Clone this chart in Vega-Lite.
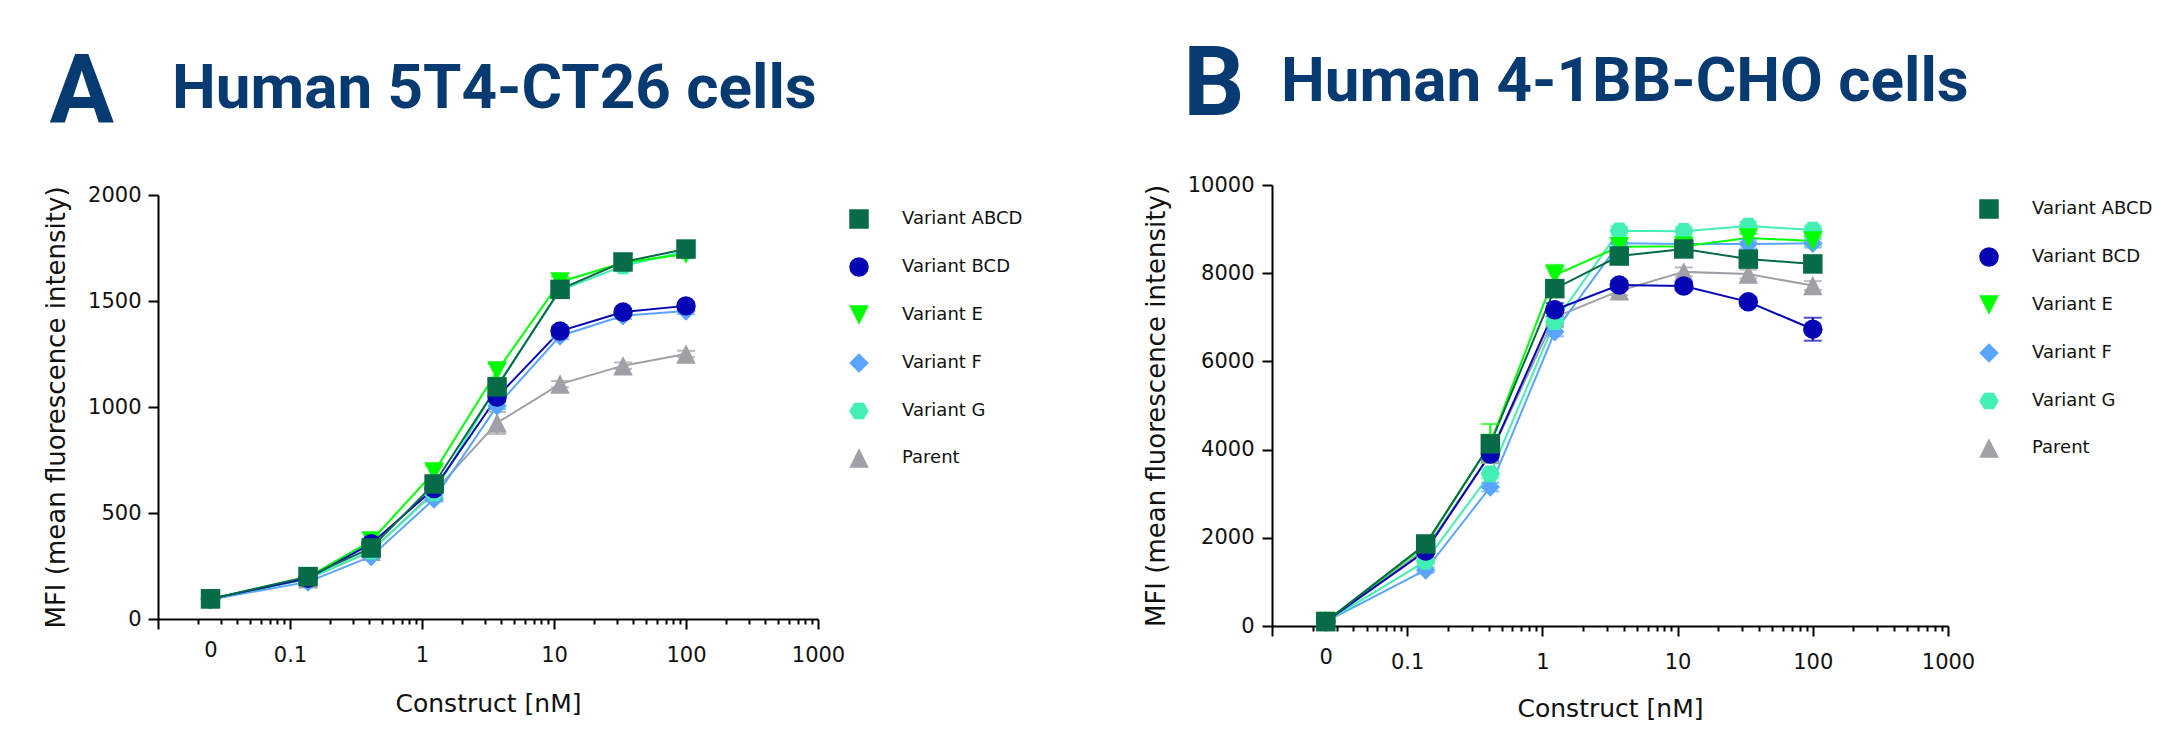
{
  "$schema": "https://vega.github.io/schema/vega-lite/v6.json",
  "background": "white",
  "padding": {"left": 43, "top": 38, "right": 0, "bottom": 0},
  "config": {
    "view": {"stroke": null},
    "font": "DejaVu Sans",
    "axis": {
      "grid": false,
      "domainColor": "#000000",
      "domainWidth": 2,
      "tickColor": "#000000",
      "tickWidth": 2,
      "labelFont": "DejaVu Sans",
      "labelFontSize": 21,
      "labelColor": "#111111",
      "titleFont": "DejaVu Sans",
      "titleFontSize": 25,
      "titleFontWeight": "normal",
      "titleColor": "#111111"
    },
    "legend": {
      "title": null,
      "orient": "right",
      "offset": 17,
      "padding": 14,
      "rowPadding": 28,
      "symbolSize": 380,
      "symbolOpacity": 1,
      "symbolStrokeWidth": 0,
      "labelFont": "DejaVu Sans",
      "labelFontSize": 18,
      "labelColor": "#111111",
      "labelOffset": 33,
      "labelLimit": 400
    },
    "title": {
      "color": "#073a70",
      "font": "Roboto",
      "fontWeight": "bold",
      "fontSize": 62,
      "anchor": "start"
    }
  },
  "datasets": {
    "mfi": [
      {"panel": "A", "series": "Parent", "nM": 0, "mfi": 95, "sd": 5},
      {"panel": "A", "series": "Parent", "nM": 0.137, "mfi": 190, "sd": 8},
      {"panel": "A", "series": "Parent", "nM": 0.412, "mfi": 320, "sd": 10},
      {"panel": "A", "series": "Parent", "nM": 1.235, "mfi": 600, "sd": 15},
      {"panel": "A", "series": "Parent", "nM": 3.704, "mfi": 925, "sd": 52},
      {"panel": "A", "series": "Parent", "nM": 11.11, "mfi": 1108, "sd": 15},
      {"panel": "A", "series": "Parent", "nM": 33.33, "mfi": 1195, "sd": 15},
      {"panel": "A", "series": "Parent", "nM": 100, "mfi": 1250, "sd": 15},
      {"panel": "A", "series": "Variant F", "nM": 0, "mfi": 92, "sd": 5},
      {"panel": "A", "series": "Variant F", "nM": 0.137, "mfi": 175, "sd": 8},
      {"panel": "A", "series": "Variant F", "nM": 0.412, "mfi": 295, "sd": 10},
      {"panel": "A", "series": "Variant F", "nM": 1.235, "mfi": 566, "sd": 12},
      {"panel": "A", "series": "Variant F", "nM": 3.704, "mfi": 1005, "sd": 15},
      {"panel": "A", "series": "Variant F", "nM": 11.11, "mfi": 1335, "sd": 15},
      {"panel": "A", "series": "Variant F", "nM": 33.33, "mfi": 1430, "sd": 15},
      {"panel": "A", "series": "Variant F", "nM": 100, "mfi": 1453, "sd": 15},
      {"panel": "A", "series": "Variant G", "nM": 0, "mfi": 95, "sd": 5},
      {"panel": "A", "series": "Variant G", "nM": 0.137, "mfi": 190, "sd": 8},
      {"panel": "A", "series": "Variant G", "nM": 0.412, "mfi": 320, "sd": 10},
      {"panel": "A", "series": "Variant G", "nM": 1.235, "mfi": 595, "sd": 15},
      {"panel": "A", "series": "Variant G", "nM": 3.704, "mfi": 1100, "sd": 20},
      {"panel": "A", "series": "Variant G", "nM": 11.11, "mfi": 1550, "sd": 20},
      {"panel": "A", "series": "Variant G", "nM": 33.33, "mfi": 1665, "sd": 15},
      {"panel": "A", "series": "Variant G", "nM": 100, "mfi": 1735, "sd": 15},
      {"panel": "A", "series": "Variant E", "nM": 0, "mfi": 95, "sd": 5},
      {"panel": "A", "series": "Variant E", "nM": 0.137, "mfi": 198, "sd": 8},
      {"panel": "A", "series": "Variant E", "nM": 0.412, "mfi": 368, "sd": 12},
      {"panel": "A", "series": "Variant E", "nM": 1.235, "mfi": 693, "sd": 29},
      {"panel": "A", "series": "Variant E", "nM": 3.704, "mfi": 1170, "sd": 33},
      {"panel": "A", "series": "Variant E", "nM": 11.11, "mfi": 1590, "sd": 25},
      {"panel": "A", "series": "Variant E", "nM": 33.33, "mfi": 1680, "sd": 15},
      {"panel": "A", "series": "Variant E", "nM": 100, "mfi": 1722, "sd": 15},
      {"panel": "A", "series": "Variant BCD", "nM": 0, "mfi": 95, "sd": 5},
      {"panel": "A", "series": "Variant BCD", "nM": 0.137, "mfi": 192, "sd": 8},
      {"panel": "A", "series": "Variant BCD", "nM": 0.412, "mfi": 355, "sd": 10},
      {"panel": "A", "series": "Variant BCD", "nM": 1.235, "mfi": 615, "sd": 15},
      {"panel": "A", "series": "Variant BCD", "nM": 3.704, "mfi": 1047, "sd": 20},
      {"panel": "A", "series": "Variant BCD", "nM": 11.11, "mfi": 1358, "sd": 20},
      {"panel": "A", "series": "Variant BCD", "nM": 33.33, "mfi": 1448, "sd": 15},
      {"panel": "A", "series": "Variant BCD", "nM": 100, "mfi": 1477, "sd": 15},
      {"panel": "A", "series": "Variant ABCD", "nM": 0, "mfi": 95, "sd": 5},
      {"panel": "A", "series": "Variant ABCD", "nM": 0.137, "mfi": 200, "sd": 8},
      {"panel": "A", "series": "Variant ABCD", "nM": 0.412, "mfi": 335, "sd": 10},
      {"panel": "A", "series": "Variant ABCD", "nM": 1.235, "mfi": 637, "sd": 15},
      {"panel": "A", "series": "Variant ABCD", "nM": 3.704, "mfi": 1095, "sd": 20},
      {"panel": "A", "series": "Variant ABCD", "nM": 11.11, "mfi": 1555, "sd": 20},
      {"panel": "A", "series": "Variant ABCD", "nM": 33.33, "mfi": 1684, "sd": 15},
      {"panel": "A", "series": "Variant ABCD", "nM": 100, "mfi": 1745, "sd": 15},

      {"panel": "B", "series": "Parent", "nM": 0, "mfi": 100, "sd": 20},
      {"panel": "B", "series": "Parent", "nM": 0.137, "mfi": 1750, "sd": 60},
      {"panel": "B", "series": "Parent", "nM": 0.412, "mfi": 3900, "sd": 100},
      {"panel": "B", "series": "Parent", "nM": 1.235, "mfi": 7000, "sd": 150},
      {"panel": "B", "series": "Parent", "nM": 3.704, "mfi": 7600, "sd": 100},
      {"panel": "B", "series": "Parent", "nM": 11.11, "mfi": 8030, "sd": 100},
      {"panel": "B", "series": "Parent", "nM": 33.33, "mfi": 7980, "sd": 100},
      {"panel": "B", "series": "Parent", "nM": 100, "mfi": 7720, "sd": 100},
      {"panel": "B", "series": "Variant F", "nM": 0, "mfi": 100, "sd": 20},
      {"panel": "B", "series": "Variant F", "nM": 0.137, "mfi": 1270, "sd": 60},
      {"panel": "B", "series": "Variant F", "nM": 0.412, "mfi": 3150, "sd": 100},
      {"panel": "B", "series": "Variant F", "nM": 1.235, "mfi": 6670, "sd": 100},
      {"panel": "B", "series": "Variant F", "nM": 3.704, "mfi": 8680, "sd": 100},
      {"panel": "B", "series": "Variant F", "nM": 11.11, "mfi": 8660, "sd": 100},
      {"panel": "B", "series": "Variant F", "nM": 33.33, "mfi": 8660, "sd": 100},
      {"panel": "B", "series": "Variant F", "nM": 100, "mfi": 8680, "sd": 100},
      {"panel": "B", "series": "Variant G", "nM": 0, "mfi": 100, "sd": 20},
      {"panel": "B", "series": "Variant G", "nM": 0.137, "mfi": 1470, "sd": 60},
      {"panel": "B", "series": "Variant G", "nM": 0.412, "mfi": 3450, "sd": 100},
      {"panel": "B", "series": "Variant G", "nM": 1.235, "mfi": 6900, "sd": 100},
      {"panel": "B", "series": "Variant G", "nM": 3.704, "mfi": 8960, "sd": 100},
      {"panel": "B", "series": "Variant G", "nM": 11.11, "mfi": 8950, "sd": 100},
      {"panel": "B", "series": "Variant G", "nM": 33.33, "mfi": 9070, "sd": 100},
      {"panel": "B", "series": "Variant G", "nM": 100, "mfi": 8980, "sd": 100},
      {"panel": "B", "series": "Variant E", "nM": 0, "mfi": 100, "sd": 20},
      {"panel": "B", "series": "Variant E", "nM": 0.137, "mfi": 1830, "sd": 60},
      {"panel": "B", "series": "Variant E", "nM": 0.412, "mfi": 4140, "sd": 440},
      {"panel": "B", "series": "Variant E", "nM": 1.235, "mfi": 7960, "sd": 230},
      {"panel": "B", "series": "Variant E", "nM": 3.704, "mfi": 8600, "sd": 100},
      {"panel": "B", "series": "Variant E", "nM": 11.11, "mfi": 8610, "sd": 100},
      {"panel": "B", "series": "Variant E", "nM": 33.33, "mfi": 8800, "sd": 100},
      {"panel": "B", "series": "Variant E", "nM": 100, "mfi": 8730, "sd": 100},
      {"panel": "B", "series": "Variant BCD", "nM": 0, "mfi": 100, "sd": 20},
      {"panel": "B", "series": "Variant BCD", "nM": 0.137, "mfi": 1700, "sd": 60},
      {"panel": "B", "series": "Variant BCD", "nM": 0.412, "mfi": 3900, "sd": 150},
      {"panel": "B", "series": "Variant BCD", "nM": 1.235, "mfi": 7170, "sd": 150},
      {"panel": "B", "series": "Variant BCD", "nM": 3.704, "mfi": 7730, "sd": 100},
      {"panel": "B", "series": "Variant BCD", "nM": 11.11, "mfi": 7710, "sd": 100},
      {"panel": "B", "series": "Variant BCD", "nM": 33.33, "mfi": 7350, "sd": 100},
      {"panel": "B", "series": "Variant BCD", "nM": 100, "mfi": 6730, "sd": 260},
      {"panel": "B", "series": "Variant ABCD", "nM": 0, "mfi": 100, "sd": 20},
      {"panel": "B", "series": "Variant ABCD", "nM": 0.137, "mfi": 1860, "sd": 60},
      {"panel": "B", "series": "Variant ABCD", "nM": 0.412, "mfi": 4130, "sd": 150},
      {"panel": "B", "series": "Variant ABCD", "nM": 1.235, "mfi": 7650, "sd": 150},
      {"panel": "B", "series": "Variant ABCD", "nM": 3.704, "mfi": 8390, "sd": 100},
      {"panel": "B", "series": "Variant ABCD", "nM": 11.11, "mfi": 8550, "sd": 100},
      {"panel": "B", "series": "Variant ABCD", "nM": 33.33, "mfi": 8320, "sd": 100},
      {"panel": "B", "series": "Variant ABCD", "nM": 100, "mfi": 8210, "sd": 100}
    ]
  },
  "resolve": {"scale": {"color": "independent", "shape": "independent"}},
  "columns": 2,
  "align": "none",
  "spacing": 96,
  "concat": [
    {
      "title": {"text": "A", "anchor": "start", "frame": "bounds", "fontSize": 96, "dx": 6, "dy": 84, "offset": 0},
      "resolve": {"scale": {"color": "independent", "shape": "independent"}},
      "vconcat": [
        {
          "title": {"text": "Human 5T4-CT26 cells", "frame": "group", "dx": 14, "offset": 63},
          "width": 660,
          "height": 434,
          "data": {"name": "mfi"},
          "transform": [
            {"filter": "datum.panel === 'A'"},
            {"calculate": "datum.nM === 0 ? 0.025 : datum.nM", "as": "x_nM"}
          ],
          "encoding": {
            "x": {
              "field": "x_nM", "type": "quantitative",
              "scale": {"type": "log", "domain": [0.01, 1000]},
              "axis": {
                "title": "Construct [nM]",
                "values": [0.01,0.02,0.03,0.04,0.05,0.06,0.07,0.08,0.09,0.1,0.2,0.3,0.4,0.5,0.6,0.7,0.8,0.9,1,2,3,4,5,6,7,8,9,10,20,30,40,50,60,70,80,90,100,200,300,400,500,600,700,800,900,1000,0.025],
                "labelExpr": "datum.value === 0.025 ? '0' : (datum.value >= 0.1 && abs(log(datum.value)/LN10 - round(log(datum.value)/LN10)) < 1e-6 ? format(datum.value, '~g') : '')",
                "labelFlush": false,
                "labelOverlap": false,
                "tickSize": {"condition": {"test": "abs(log(datum.value)/LN10 - round(log(datum.value)/LN10)) < 1e-6", "value": 10}, "value": 5},
                "tickOpacity": {"condition": {"test": "datum.value === 0.025", "value": 0}, "value": 1},
                "labelPadding": 15,
                "titlePadding": 26
              }
            },
            "y": {
              "field": "mfi", "type": "quantitative",
              "scale": {"domain": [0, 2000], "nice": false, "range": [434, 10]},
              "axis": {"title": "MFI (mean fluorescence intensity)", "titleFontSize": 26, "format": "d", "values": [0, 500, 1000, 1500, 2000], "tickSize": 10, "labelPadding": 7, "titlePadding": 18}
            },
            "color": {
              "field": "series", "type": "nominal",
              "scale": {"domain": ["Variant ABCD", "Variant BCD", "Variant E", "Variant F", "Variant G", "Parent"], "range": ["#066b46", "#0505b5", "#00ff00", "#5aa5ff", "#44efb3", "#a0a0a6"]},
              "legend": {"padding": 24, "offset": 7}
            }
          },
          "layer": [
            {"mark": {"type": "line", "strokeWidth": 2}},
            {
              "mark": {"type": "errorbar", "thickness": 2, "ticks": {"size": 18, "thickness": 2}},
              "encoding": {"yError": {"field": "sd"}}
            },
            {
              "mark": {"type": "point", "filled": true, "size": 380, "opacity": 1},
              "encoding": {
                "shape": {
                  "field": "series", "type": "nominal",
                  "scale": {"domain": ["Variant ABCD", "Variant BCD", "Variant E", "Variant F", "Variant G", "Parent"], "range": ["M-1,-1H1V1H-1Z", "circle", "M-1,-1H1L0,1Z", "M0,-1L1,0L0,1L-1,0Z", "M-1,0L-0.5,-0.85H0.5L1,0L0.5,0.85H-0.5Z", "M0,-1L1,1H-1Z"]},
                  "legend": {"padding": 24, "offset": 7}
                }
              }
            }
          ]
        }
      ]
    },
    {
      "title": {"text": "B", "anchor": "start", "frame": "bounds", "fontSize": 96, "dx": 40, "dy": 84, "offset": 0},
      "resolve": {"scale": {"color": "independent", "shape": "independent"}},
      "vconcat": [
        {
          "title": {"text": "Human 4-1BB-CHO cells", "frame": "group", "dx": 9, "offset": 60},
          "width": 676,
          "height": 441,
          "data": {"name": "mfi"},
          "transform": [
            {"filter": "datum.panel === 'B'"},
            {"calculate": "datum.nM === 0 ? 0.025 : datum.nM", "as": "x_nM"}
          ],
          "encoding": {
            "x": {
              "field": "x_nM", "type": "quantitative",
              "scale": {"type": "log", "domain": [0.01, 1000]},
              "axis": {
                "title": "Construct [nM]",
                "values": [0.01,0.02,0.03,0.04,0.05,0.06,0.07,0.08,0.09,0.1,0.2,0.3,0.4,0.5,0.6,0.7,0.8,0.9,1,2,3,4,5,6,7,8,9,10,20,30,40,50,60,70,80,90,100,200,300,400,500,600,700,800,900,1000,0.025],
                "labelExpr": "datum.value === 0.025 ? '0' : (datum.value >= 0.1 && abs(log(datum.value)/LN10 - round(log(datum.value)/LN10)) < 1e-6 ? format(datum.value, '~g') : '')",
                "labelFlush": false,
                "labelOverlap": false,
                "tickSize": {"condition": {"test": "abs(log(datum.value)/LN10 - round(log(datum.value)/LN10)) < 1e-6", "value": 10}, "value": 5},
                "tickOpacity": {"condition": {"test": "datum.value === 0.025", "value": 0}, "value": 1},
                "labelPadding": 15,
                "titlePadding": 24
              }
            },
            "y": {
              "field": "mfi", "type": "quantitative",
              "scale": {"domain": [0, 10000], "nice": false},
              "axis": {"title": "MFI (mean fluorescence intensity)", "titleFontSize": 26, "format": "d", "values": [0, 2000, 4000, 6000, 8000, 10000], "tickSize": 10, "labelPadding": 8, "titlePadding": 18}
            },
            "color": {
              "field": "series", "type": "nominal",
              "scale": {"domain": ["Variant ABCD", "Variant BCD", "Variant E", "Variant F", "Variant G", "Parent"], "range": ["#066b46", "#0505b5", "#00ff00", "#5aa5ff", "#44efb3", "#a0a0a6"]}
            }
          },
          "layer": [
            {"mark": {"type": "line", "strokeWidth": 2}},
            {
              "mark": {"type": "errorbar", "thickness": 2, "ticks": {"size": 18, "thickness": 2}},
              "encoding": {"yError": {"field": "sd"}}
            },
            {
              "mark": {"type": "point", "filled": true, "size": 380, "opacity": 1},
              "encoding": {
                "shape": {
                  "field": "series", "type": "nominal",
                  "scale": {"domain": ["Variant ABCD", "Variant BCD", "Variant E", "Variant F", "Variant G", "Parent"], "range": ["M-1,-1H1V1H-1Z", "circle", "M-1,-1H1L0,1Z", "M0,-1L1,0L0,1L-1,0Z", "M-1,0L-0.5,-0.85H0.5L1,0L0.5,0.85H-0.5Z", "M0,-1L1,1H-1Z"]}
                }
              }
            }
          ]
        }
      ]
    }
  ]
}
